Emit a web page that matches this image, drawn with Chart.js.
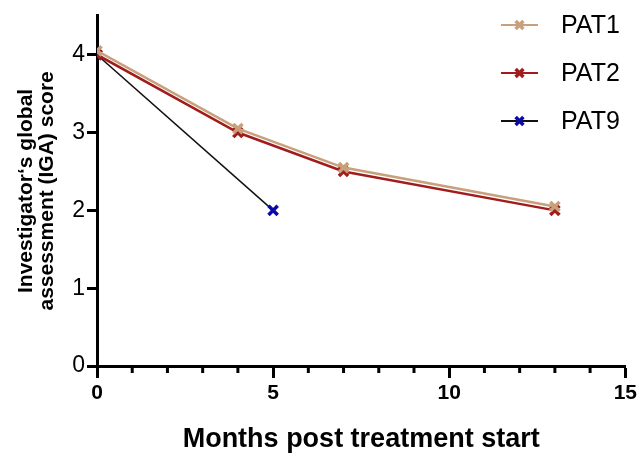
<!DOCTYPE html>
<html>
<head>
<meta charset="utf-8">
<script src="https://cdn.jsdelivr.net/npm/chart.js@4"></script>
<style>
  html, body { margin: 0; padding: 0; background: #fff; }
  #wrap { width: 640px; height: 456px; }
</style>
</head>
<body>
<div id="wrap"><canvas id="igaChart" width="640" height="456"></canvas></div>
<script>
// Data
const months = [0, 4, 7, 13];
const months9 = [0, 5];
const pat1 = [4.05, 3.05, 2.55, 2.05];
const pat2 = [4, 3, 2.5, 2];
const pat9 = [4, 2];
const xMajorTicks = [0, 5, 10, 15];
const xMinorTicks = [1, 2, 3, 4, 6, 7, 8, 9, 11, 12, 13, 14];
const yTicks = [0, 1, 2, 3, 4];

const FONT = "'Liberation Sans', Arial, sans-serif";

function toPoints(xs, ys) {
  return xs.map((x, i) => ({ x: x, y: ys[i] }));
}

// short minor tick marks under the x axis
const minorTicks = {
  id: "minorTicks",
  afterDraw(chart) {
    const ctx = chart.ctx;
    const xs = chart.scales.x;
    const y0 = chart.chartArea.bottom;
    ctx.save();
    ctx.strokeStyle = "#000";
    ctx.lineWidth = 3;
    xMinorTicks.forEach((v) => {
      const px = xs.getPixelForValue(v);
      ctx.beginPath();
      ctx.moveTo(px, y0);
      ctx.lineTo(px, y0 + 7);
      ctx.stroke();
    });
    ctx.restore();
  },
};

// legend with line + cross like the original
const lineLegend = {
  id: "lineLegend",
  afterDraw(chart) {
    const ctx = chart.ctx;
    ctx.save();
    ctx.font = "25px " + FONT;
    ctx.textBaseline = "middle";
    chart.data.datasets.forEach((ds, i) => {
      const y = 25 + i * 48;
      ctx.strokeStyle = ds.borderColor;
      ctx.lineWidth = 2;
      ctx.beginPath();
      ctx.moveTo(501, y);
      ctx.lineTo(538, y);
      ctx.stroke();
      ctx.strokeStyle = ds.pointBorderColor;
      ctx.lineWidth = 3.5;
      Chart.helpers.drawPoint(ctx, { pointStyle: "crossRot", radius: 5.5, borderWidth: 3.5 }, 519.5, y);
      ctx.fillStyle = "#000";
      ctx.fillText(ds.label, 561, y + 1);
    });
    ctx.restore();
  },
};

const ctx = document.getElementById("igaChart");
new Chart(ctx, {
  type: "line",
  data: {
    datasets: [
      {
        label: "PAT1",
        data: toPoints(months, pat1),
        borderColor: "#c9a07c",
        pointBorderColor: "#c9a07c",
        borderWidth: 2.5,
        pointStyle: "crossRot",
        pointRadius: 6.5,
        pointBorderWidth: 3.5,
      },
      {
        label: "PAT2",
        data: toPoints(months, pat2),
        borderColor: "#a11d1d",
        pointBorderColor: "#a11d1d",
        borderWidth: 2.5,
        pointStyle: "crossRot",
        pointRadius: 6.5,
        pointBorderWidth: 3.5,
      },
      {
        label: "PAT9",
        data: toPoints(months9, pat9),
        borderColor: "#111111",
        pointBorderColor: "#0a0aa6",
        borderWidth: 1.5,
        pointStyle: "crossRot",
        pointRadius: 6.5,
        pointBorderWidth: 3.5,
      },
    ],
  },
  options: {
    responsive: false,
    animation: false,
    layout: { padding: { top: 12, right: 14, left: 0, bottom: 0 } },
    plugins: {
      legend: { display: false },
      tooltip: { enabled: false },
    },
    scales: {
      x: {
        type: "linear",
        min: 0,
        max: 15,
        afterBuildTicks: (s) => { s.ticks = xMajorTicks.map((v) => ({ value: v })); },
        afterFit: (s) => { s.height = 90; },
        border: { color: "#000", width: 3 },
        grid: { drawOnChartArea: false, drawTicks: true, tickLength: 12, tickWidth: 3, tickColor: "#000" },
        ticks: { color: "#000", font: { family: FONT, size: 21, weight: "bold" }, padding: 3, maxRotation: 0 },
        title: {
          display: true,
          text: "Months post treatment start",
          color: "#000",
          font: { family: FONT, size: 27, weight: "bold" },
          padding: { top: 4, bottom: 0 },
        },
      },
      y: {
        min: 0,
        max: 4.5,
        afterBuildTicks: (s) => { s.ticks = yTicks.map((v) => ({ value: v })); },
        afterFit: (s) => { s.width = 97; },
        border: { color: "#000", width: 3 },
        grid: { drawOnChartArea: false, drawTicks: true, tickLength: 10, tickWidth: 3, tickColor: "#000" },
        ticks: { color: "#000", font: { family: FONT, size: 23 }, padding: 2 },
        title: {
          display: true,
          text: ["Investigator‘s global", "assessment (IGA) score"],
          color: "#000",
          font: { family: FONT, size: 21, weight: "bold", lineHeight: 1.02 },
          padding: { top: 15, bottom: 4 },
        },
      },
    },
  },
  plugins: [minorTicks, lineLegend],
});
</script>
</body>
</html>
